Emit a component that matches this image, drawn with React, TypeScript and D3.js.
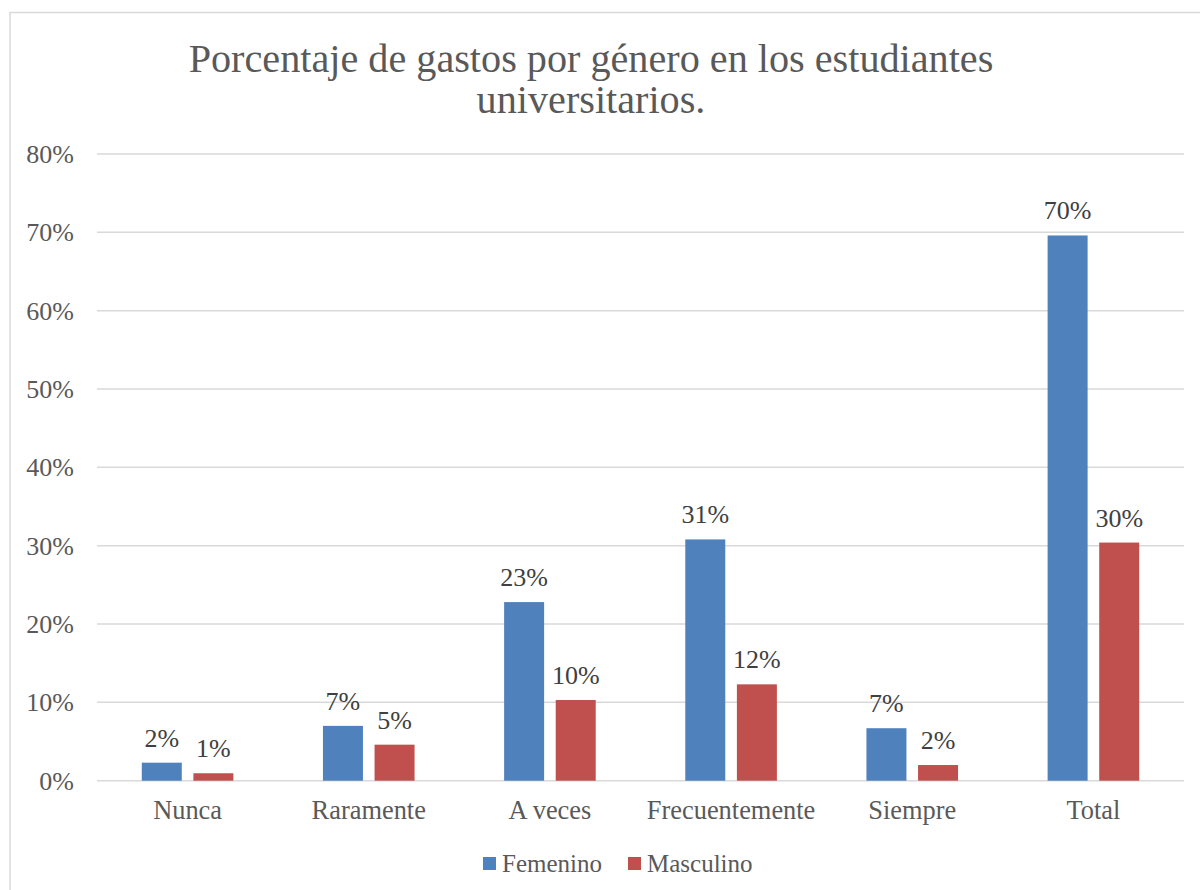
import React from "react";
import * as d3 from "d3";

const categories = ["Nunca", "Raramente", "A veces", "Frecuentemente", "Siempre", "Total"];
const seriesNames = ["Femenino", "Masculino"];
const femenino = [2.3, 7.0, 22.8, 30.8, 6.7, 69.6];
const masculino = [0.95, 4.6, 10.3, 12.3, 2.0, 30.4];
const yTicks = [0, 10, 20, 30, 40, 50, 60, 70, 80];
const colors = ["#4F81BD", "#C0504D"];
const titleLines = ["Porcentaje de gastos por género en los estudiantes", "universitarios."];

const FONT = "'Liberation Serif', 'Times New Roman', serif";
const TEXT = "#595959";

export default function App() {
  const x0 = 97, x1 = 1184;
  const y = d3.scaleLinear().domain([0, 80]).range([780.7, 154]);
  const xBand = d3.scaleBand<string>().domain(categories).range([x0, x1]).paddingInner(0).paddingOuter(0);
  const groupW = 91.6;
  const xSub = d3.scaleBand<string>().domain(seriesNames).range([0, groupW]).paddingInner(0.225);
  const seriesValues = [femenino, masculino];

  return (
    <svg width={1200} height={890} style={{ position: "absolute", left: 0, top: 0, background: "#fff" }}>
      <rect x={0} y={0} width={1200} height={890} fill="#fff" />
      <rect x={10} y={12.5} width={1200} height={900} fill="none" stroke="#D9D9D9" strokeWidth={1.5} />
      {titleLines.map((t, i) => (
        <text key={i} x={591} y={72 + i * 41} textAnchor="middle" fontFamily={FONT} fontSize={40.2} fill={TEXT}>
          {t}
        </text>
      ))}
      {yTicks.map((t) => (
        <g key={t}>
          <line x1={x0} x2={x1} y1={y(t)} y2={y(t)} stroke="#D9D9D9" strokeWidth={1.5} />
          <text x={74} y={y(t)} dy="0.35em" textAnchor="end" fontFamily={FONT} fontSize={26} fill={TEXT}>
            {t}%
          </text>
        </g>
      ))}
      {categories.map((c, ci) => {
        const cx = (xBand(c) as number) + xBand.bandwidth() / 2;
        const gx = cx - groupW / 2;
        return (
          <g key={c}>
            {seriesNames.map((s, si) => {
              const v = seriesValues[si][ci];
              const bx = gx + (xSub(s) as number);
              const bw = xSub.bandwidth();
              return (
                <g key={s}>
                  <rect x={bx} y={y(v)} width={bw} height={y(0) - y(v)} fill={colors[si]} />
                  <text x={bx + bw / 2} y={y(v) - 16} textAnchor="middle" fontFamily={FONT} fontSize={26} fill="#404040">
                    {Math.round(v)}%
                  </text>
                </g>
              );
            })}
            <text x={cx} y={819} textAnchor="middle" fontFamily={FONT} fontSize={26.4} fill={TEXT}>
              {c}
            </text>
          </g>
        );
      })}
      {seriesNames.map((s, si) => {
        const lx = [483, 628][si];
        return (
          <g key={s}>
            <rect x={lx} y={857} width={13} height={13} fill={colors[si]} />
            <text x={lx + 19} y={871.5} fontFamily={FONT} fontSize={25} fill={TEXT}>
              {s}
            </text>
          </g>
        );
      })}
    </svg>
  );
}
